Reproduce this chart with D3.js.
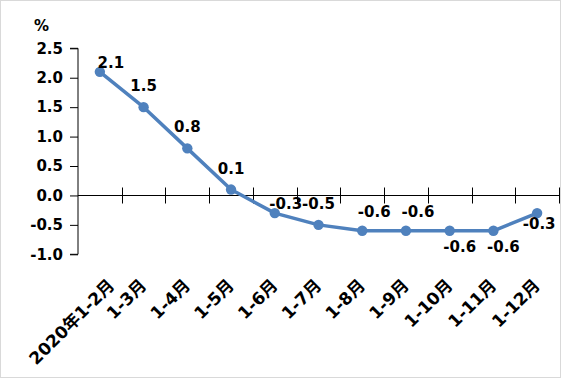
<!DOCTYPE html>
<html>
<head>
<meta charset="utf-8">
<script src="https://cdn.jsdelivr.net/npm/d3@7"></script>
<style>
  html, body { margin: 0; padding: 0; background: #fff; }
  svg { display: block; }
  text { font-family: "DejaVu Sans", "Noto Sans CJK SC", sans-serif; font-weight: bold; fill: #000; }
</style>
</head>
<body>
<div id="chart"></div>
<script>
// ---- data ----
const categories = ["2020年1-2月", "1-3月", "1-4月", "1-5月", "1-6月", "1-7月", "1-8月", "1-9月", "1-10月", "1-11月", "1-12月"];
const values = [2.1, 1.5, 0.8, 0.1, -0.3, -0.5, -0.6, -0.6, -0.6, -0.6, -0.3];
const yTicks = [-1.0, -0.5, 0.0, 0.5, 1.0, 1.5, 2.0, 2.5];
const unitLabel = "%";
// label placement codes (style only)
const labelPlacement = ["TR", "T", "T", "T", "TR", "T", "TR2", "TR2", "BR", "BR", "B"];

// ---- layout / style ----
const W = 562, H = 379;
const plot = { left: 78, right: 559, top: 48.3, bottom: 254.3 };
const lineColor = "#4F81BD";
const placeOffsets = {
  T:   { dx: 0,  dy: -16 },
  TR:  { dx: 11, dy: -4 },
  TR2: { dx: 12, dy: -14 },
  B:   { dx: 2,  dy: 16 },
  BR:  { dx: 10, dy: 21 }
};

const svg = d3.select("#chart").append("svg").attr("width", W).attr("height", H);

// outer border
svg.append("rect").attr("x", 0.5).attr("y", 0.5).attr("width", 560).attr("height", 377)
  .attr("fill", "#fff").attr("stroke", "#d9d9d9").attr("stroke-width", 1);

const x = d3.scaleBand().domain(categories).range([plot.left, plot.right]).padding(0);
const y = d3.scaleLinear().domain([-1.0, 2.5]).range([plot.bottom, plot.top]);
const cx = d => x(d) + x.bandwidth() / 2;

// y axis
const yAxis = d3.axisLeft(y).tickValues(yTicks).tickFormat(d3.format(".1f")).tickSize(8).tickPadding(7);
const gy = svg.append("g").attr("transform", `translate(${plot.left},0)`).call(yAxis);
gy.select(".domain").attr("stroke", "#000").attr("stroke-width", 1).attr("d", `M-8,${y(2.5)}H0V${y(-1)}H-8`);
gy.selectAll(".tick line").attr("stroke", "#000");
gy.selectAll(".tick text").style("font-size", "15px").attr("fill", "#000")
  .text(d => d3.format(".1f")(d).replace("−", "-"));

// x axis at zero, cross ticks at category boundaries
const y0 = Math.round(y(0)) + 0.5;
const gx = svg.append("g");
gx.append("line").attr("x1", plot.left).attr("x2", plot.right).attr("y1", y0).attr("y2", y0)
  .attr("stroke", "#000").attr("stroke-width", 1);
const boundaries = categories.map(c => x(c) + x.bandwidth()).map(v => Math.round(v) + 0.5);
gx.selectAll("line.tk").data(boundaries).enter().append("line").attr("class", "tk")
  .attr("x1", d => d).attr("x2", d => d).attr("y1", y0 - 8).attr("y2", y0 + 8)
  .attr("stroke", "#000").attr("stroke-width", 1);

// category labels (rotated -45), kept inside the chart's left margin
const labY = 286.5;
const minLeft = 25;
gx.selectAll("text.cat").data(categories).enter().append("text").attr("class", "cat")
  .attr("transform", d => `translate(${cx(d) + 4},${labY}) rotate(-45)`)
  .attr("text-anchor", "end")
  .style("font-size", "17px")
  .text(d => d)
  .each(function(d) {
    const r = this.getBoundingClientRect();
    if (r.left < minLeft) {
      d3.select(this).attr("transform", `translate(${cx(d) + 4 + (minLeft - r.left)},${labY}) rotate(-45)`);
    }
  });

// unit label
svg.append("text").attr("x", 34).attr("y", 31).style("font-size", "15px").text(unitLabel);

// line
const line = d3.line().x((d, i) => cx(categories[i])).y(d => y(d));
svg.append("path").datum(values).attr("d", line).attr("fill", "none")
  .attr("stroke", lineColor).attr("stroke-width", 3.5).attr("stroke-linejoin", "round");

svg.selectAll("circle.pt").data(values).enter().append("circle").attr("class", "pt")
  .attr("cx", (d, i) => cx(categories[i])).attr("cy", d => y(d)).attr("r", 5.2)
  .attr("fill", lineColor);

// data labels
svg.selectAll("text.val").data(values).enter().append("text").attr("class", "val")
  .attr("x", (d, i) => cx(categories[i]) + placeOffsets[labelPlacement[i]].dx)
  .attr("y", (d, i) => y(d) + placeOffsets[labelPlacement[i]].dy)
  .attr("text-anchor", "middle")
  .style("font-size", "15px")
  .text(d => d3.format(".1f")(d).replace("−", "-"));
</script>
</body>
</html>
